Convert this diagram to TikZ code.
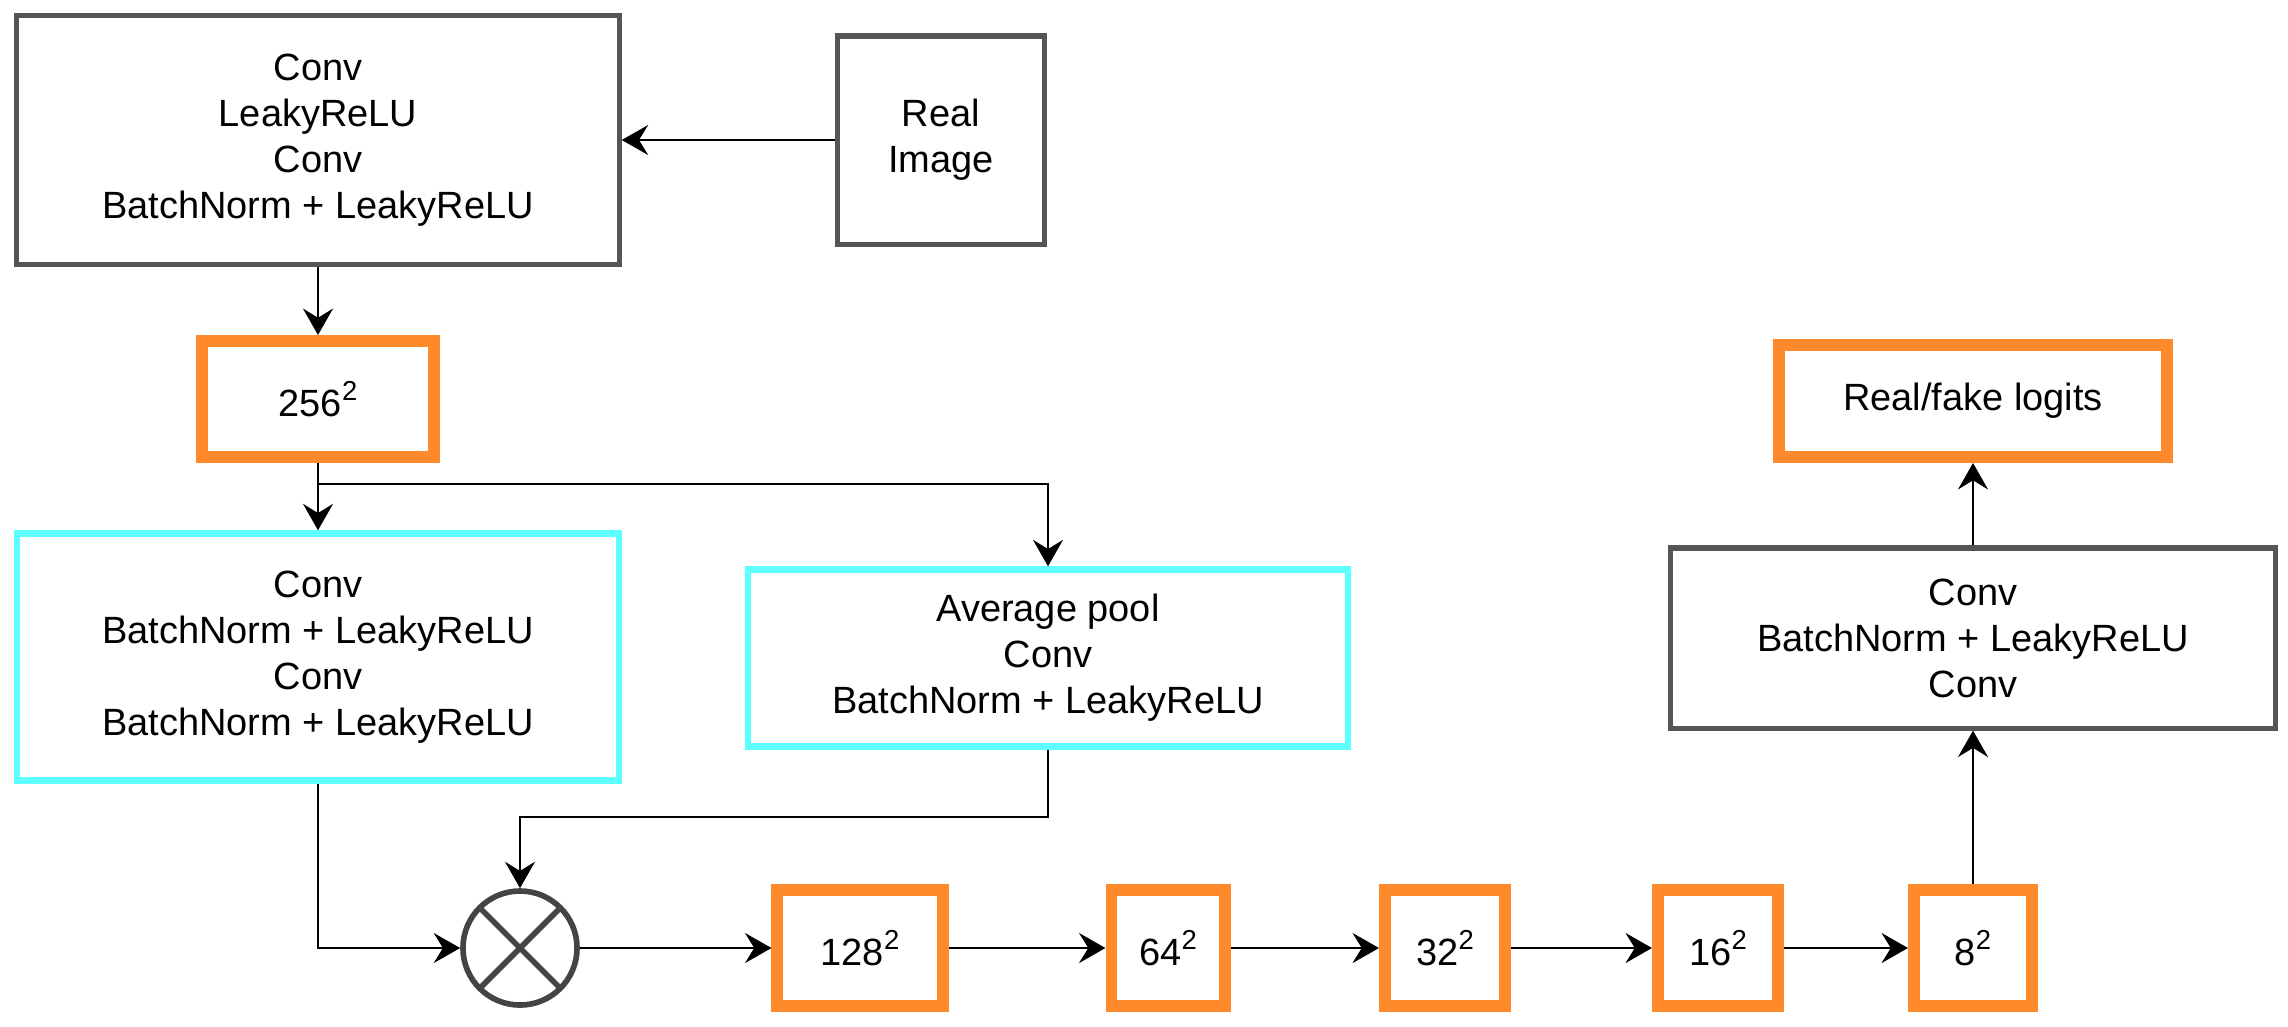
\documentclass[tikz,border=0pt]{standalone}
\usepackage{fontspec}
\setmainfont{Liberation Sans}
\usetikzlibrary{arrows.meta}
\definecolor{boxgray}{HTML}{555555}
\definecolor{ringgray}{HTML}{444444}
\definecolor{featorange}{HTML}{FF8A2B}
\definecolor{blockcyan}{HTML}{5EFFFF}
\newcommand{\sqres}[1]{#1\raisebox{4.4pt}{\fontsize{7.8}{8}\selectfont 2}}
\tikzset{
  every node/.style={font=\fontsize{10.8}{13.1}\selectfont, align=center, inner sep=0pt},
  graybox/.style={draw=boxgray, line width=1.45pt},
  cyanbox/.style={draw=blockcyan, line width=1.8pt},
  featbox/.style={draw=featorange, line width=3.4pt, minimum height=1.16cm},
  flow/.style={-{Stealth[length=7.5pt,width=8.5pt,inset=2.6pt]}, line width=0.8pt},
}

\begin{document}
\begin{tikzpicture}[x=0.01cm, y=-0.01cm]
\useasboundingbox (0,0) rectangle (2288,1026);

% encoder stem
\node [graybox, minimum width=6.02cm, minimum height=2.49cm] (stem) at (318,140) {Conv\\LeakyReLU\\Conv\\BatchNorm + LeakyReLU};
\node [graybox, minimum width=2.07cm, minimum height=2.08cm] (real) at (941,140) {Real\\Image};
\node [featbox, minimum width=2.31cm] (f256) at (318,399) {\sqres{256}};

% residual block
\node [cyanbox, minimum width=6.01cm, minimum height=2.47cm] (main) at (318,657) {Conv\\BatchNorm + LeakyReLU\\Conv\\BatchNorm + LeakyReLU};
\node [cyanbox, minimum width=6.00cm, minimum height=1.77cm] (pool) at (1048,658) {Average pool\\Conv\\BatchNorm + LeakyReLU};
\node [circle, draw=ringgray, line width=1.6pt, minimum size=1.14cm,
  path picture={\draw [ringgray, line width=1.6pt] (path picture bounding box.north west) -- (path picture bounding box.south east)
    (path picture bounding box.north east) -- (path picture bounding box.south west);}] (mul) at (520,948) {};

% downsampling row
\foreach \name/\x/\w/\res in {f128/860/1.65/128, f64/1168/1.13/64, f32/1445/1.20/32, f16/1718/1.20/16, f8/1973/1.18/8}
  {\node [featbox, minimum width=\w cm] (\name) at (\x,948) {\sqres{\res}};}

% head
\node [graybox, minimum width=6.05cm, minimum height=1.80cm] (head) at (1973,638) {Conv\\BatchNorm + LeakyReLU\\Conv};
\node [featbox, minimum width=3.88cm, minimum height=1.12cm] (logits) at (1973,401) {Real/fake logits};

\coordinate (split) at (318,484);
\coordinate (bend) at (1048,817);

\draw [flow] (real) -- (stem);
\draw [flow] (stem) -- (f256);
\draw [flow] (f256) -- (main);
\draw [flow] (split) -| (pool);
\draw [flow] (main) |- (mul);
\draw [flow] (pool) -- (bend) -| (mul);
\foreach \a/\b in {mul/f128, f128/f64, f64/f32, f32/f16, f16/f8}
  {\draw [flow] (\a) -- (\b);}
\draw [flow] (f8) -- (head);
\draw [flow] (head) -- (logits);

\end{tikzpicture}
\end{document}
